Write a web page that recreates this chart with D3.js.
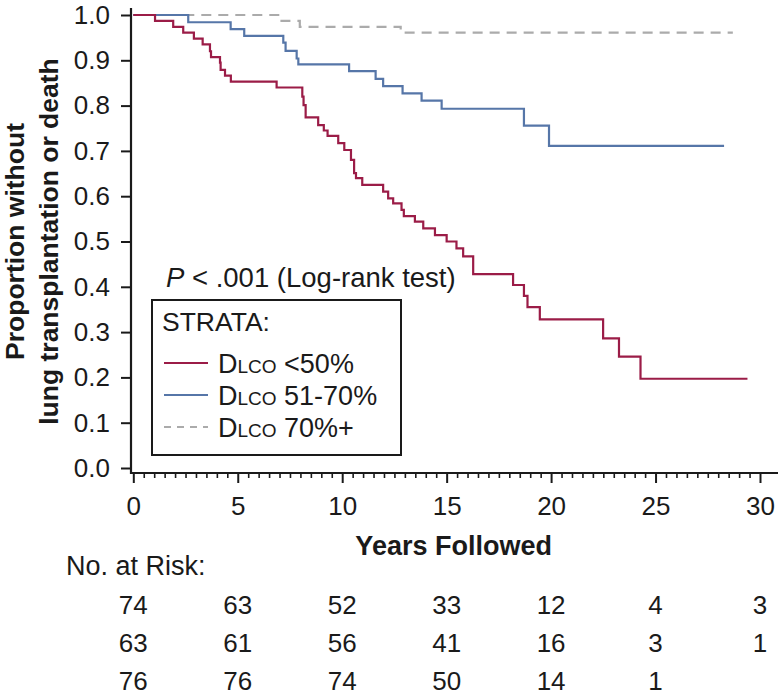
<!DOCTYPE html>
<html>
<head>
<meta charset="utf-8">
<script src="https://cdn.jsdelivr.net/npm/d3@7"></script>
<style>
  html, body { margin: 0; padding: 0; background: #fff; }
  svg { display: block; font-family: "Liberation Sans", Arial, Helvetica, sans-serif; }
</style>
</head>
<body>
<svg id="chart" width="778" height="696"></svg>
<script>
// ---------------- DATA ----------------
const xTicks = [0, 5, 10, 15, 20, 25, 30];
const yTicks = [0, 0.1, 0.2, 0.3, 0.4, 0.5, 0.6, 0.7, 0.8, 0.9, 1.0];

const seriesNames = ["<50%", "51-70%", "70%+"];

// DLCO <50%
const lowTimes = [0, 1.04, 1.91, 2.39, 2.90, 3.32, 3.67, 3.72, 4.15, 4.18, 4.39, 4.67, 6.86, 8.09, 8.15, 8.25,
  8.85, 9.12, 9.30, 9.81, 10.10, 10.42, 10.57, 10.66, 10.96, 11.96, 12.20, 12.44, 12.84, 12.95, 13.48,
  13.88, 14.44, 15.00, 15.47, 15.79, 16.27, 18.18, 18.70, 18.87, 19.46, 22.49, 23.25, 24.28, 29.4];
const lowSurv = [1, 0.987, 0.974, 0.961, 0.948, 0.935, 0.920, 0.907, 0.895, 0.879, 0.866, 0.853, 0.840, 0.820, 0.801, 0.774,
  0.757, 0.745, 0.733, 0.717, 0.702, 0.680, 0.651, 0.640, 0.625, 0.610, 0.595, 0.584, 0.570, 0.556, 0.544,
  0.529, 0.514, 0.500, 0.485, 0.467, 0.428, 0.404, 0.380, 0.355, 0.328, 0.286, 0.246, 0.197, 0.197];

// DLCO 51-70%
const midTimes = [0, 2.63, 4.66, 5.31, 7.18, 7.29, 7.82, 7.90, 10.33, 11.60, 11.96, 12.89, 13.80, 14.76, 18.70, 19.90, 28.28];
const midSurv  = [1, 0.984, 0.969, 0.954, 0.939, 0.921, 0.904, 0.891, 0.876, 0.859, 0.843, 0.827, 0.811, 0.793, 0.756, 0.711, 0.711];

// DLCO 70%+
const highTimes = [0, 7.0, 7.97, 12.8, 28.7];
const highSurv  = [1, 0.987, 0.974, 0.961, 0.961];

// Numbers at risk
const riskLow  = [74, 63, 52, 33, 12, 4, 3];
const riskMid  = [63, 61, 56, 41, 16, 3, 1];
const riskHigh = [76, 76, 74, 50, 14, 1];

// ---------------- CHART ----------------
const svg = d3.select("#chart");
const FONT = "\"Liberation Sans\", Arial, Helvetica, sans-serif";
const ink = "#1a1a1a";

const x = d3.scaleLinear().domain([0, 30]).range([133.3, 760]);
const y = d3.scaleLinear().domain([0, 1]).range([468, 15]);

const axisY0 = 473;   // x-axis baseline (slightly offset below 0)
const axisX0 = 131;   // y-axis line

// X axis: minor ticks
const minorVals = d3.range(0, 30.01, 0.5).filter(v => Math.abs(v % 5) > 1e-6);
const gxMinor = svg.append("g").attr("transform", `translate(0,${axisY0})`)
  .call(d3.axisBottom(x).tickValues(minorVals).tickSize(5).tickSizeOuter(0).tickFormat(""));
gxMinor.select(".domain").remove();
gxMinor.selectAll("line").attr("stroke", ink).attr("stroke-width", 1.6);

const gx = svg.append("g").attr("transform", `translate(0,${axisY0})`)
  .call(d3.axisBottom(x).tickValues(xTicks).tickSize(10).tickSizeOuter(0).tickPadding(14).tickFormat(d3.format("d")));
gx.select(".domain").remove();
gx.selectAll("line").attr("stroke", ink).attr("stroke-width", 2);
gx.selectAll("text").attr("font-family", FONT).attr("font-size", 26).attr("fill", ink);

// Y axis
const gy = svg.append("g").attr("transform", `translate(${axisX0},0)`)
  .call(d3.axisLeft(y).tickValues(yTicks).tickSize(10).tickSizeOuter(0).tickPadding(11).tickFormat(d3.format(".1f")));
gy.select(".domain").remove();
gy.selectAll("line").attr("stroke", ink).attr("stroke-width", 2);
gy.selectAll("text").attr("font-family", FONT).attr("font-size", 26).attr("fill", ink);

// axis lines (L shape)
svg.append("path")
  .attr("d", `M${axisX0},${y(1) - 7}V${axisY0}H778`)
  .attr("fill", "none").attr("stroke", ink).attr("stroke-width", 2.2);

// Curves
const colors = ["#9b1c47", "#5676a8", "#ababab"];
const seriesData = [
  { t: highTimes, s: highSurv, color: colors[2], dash: "10,7" },
  { t: midTimes, s: midSurv, color: colors[1], dash: null },
  { t: lowTimes, s: lowSurv, color: colors[0], dash: null }
];
const line = d3.line().x(d => x(d[0])).y(d => y(d[1])).curve(d3.curveStepAfter);
seriesData.forEach(sd => {
  const pts = sd.t.map((t, i) => [t, sd.s[i]]);
  svg.append("path").datum(pts)
    .attr("d", line)
    .attr("fill", "none")
    .attr("stroke", sd.color)
    .attr("stroke-width", 2.2)
    .attr("stroke-dasharray", sd.dash);
});

// Y axis title
const yt = svg.append("text")
  .attr("transform", `translate(24,${(y(0) + y(1)) / 2}) rotate(-90)`)
  .attr("text-anchor", "middle")
  .attr("font-family", FONT).attr("font-size", 26.5).attr("font-weight", "bold").attr("fill", ink);
yt.append("tspan").attr("x", 0).attr("y", 0).text("Proportion without");
yt.append("tspan").attr("x", 0).attr("y", 34).text("lung transplantation or death");

// X axis title
svg.append("text")
  .attr("x", (x(0) + x(30)) / 2 + 7).attr("y", 555)
  .attr("text-anchor", "middle")
  .attr("font-family", FONT).attr("font-size", 27).attr("font-weight", "bold").attr("fill", ink)
  .text("Years Followed");

// P-value
const pt = svg.append("text")
  .attr("x", 166).attr("y", 287)
  .attr("font-family", FONT).attr("font-size", 27.5).attr("fill", ink);
pt.append("tspan").attr("font-style", "italic").text("P");
pt.append("tspan").text(" < .001 (Log-rank test)");

// Legend
svg.append("rect")
  .attr("x", 152).attr("y", 300).attr("width", 249).attr("height", 155)
  .attr("fill", "#fff").attr("stroke", ink).attr("stroke-width", 2);
svg.append("text")
  .attr("x", 162).attr("y", 331)
  .attr("font-family", FONT).attr("font-size", 26.5).attr("fill", ink)
  .text("STRATA:");
const legendOrder = [0, 1, 2];
const legendDash = [null, null, "7,6"];
legendOrder.forEach((k, i) => {
  const cy = 363 + i * 32;
  svg.append("line")
    .attr("x1", 164).attr("x2", 208).attr("y1", cy).attr("y2", cy)
    .attr("stroke", colors[k]).attr("stroke-width", 2)
    .attr("stroke-dasharray", legendDash[k]);
  const tx = svg.append("text")
    .attr("x", 218).attr("y", cy + 9.5)
    .attr("font-family", FONT).attr("font-size", 27).attr("fill", ink);
  tx.append("tspan").text("D");
  tx.append("tspan").attr("font-size", 19).text("LCO");
  tx.append("tspan").text(" " + seriesNames[k]);
});

// Number at risk table
svg.append("text")
  .attr("x", 66).attr("y", 575)
  .attr("font-family", FONT).attr("font-size", 27).attr("fill", ink)
  .text("No. at Risk:");
[riskLow, riskMid, riskHigh].forEach((row, r) => {
  svg.append("g").selectAll("text").data(row).join("text")
    .attr("x", (d, i) => x(xTicks[i]))
    .attr("y", 614 + r * 38)
    .attr("text-anchor", "middle")
    .attr("font-family", FONT).attr("font-size", 26).attr("fill", ink)
    .text(d => d);
});
</script>
</body>
</html>
